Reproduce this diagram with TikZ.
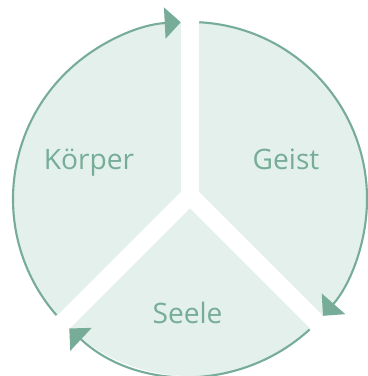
\documentclass[tikz,border=0pt]{standalone}
\usepackage{fontspec}
\setmainfont{Open Sans}
\usetikzlibrary{arrows.meta,calc}
\definecolor{SageLine}{RGB}{118,172,152}
\definecolor{SageFill}{RGB}{227,240,235}
\tikzset{
  disc/.style={fill=SageFill,draw=none},
  gap/.style={draw=white,line width=3.6mm,line join=miter},
  ring/.style={-{Triangle[length=3.2mm,width=6.2mm]},draw=SageLine,fill=none,line width=1.2pt},
  word/.style={text=SageLine,font=\fontsize{16}{19}\selectfont,anchor=base}
}

\begin{document}
\begin{tikzpicture}
  \useasboundingbox (-3.8,-3.54) rectangle (3.54,3.98);
  \coordinate (c) at (0,0);
  \coordinate (j) at (0,0.07);

  % filled disc and the three white gaps
  \fill[disc] (c) circle[radius=3.54];
  \draw[gap] ($(j)+(0,4.2)$) -- (j) -- ($(j)+(225:5)$);
  \draw[gap] (j) -- ($(j)+(-45:5)$);

  % clockwise arcs with arrow heads
  \draw[ring] (c) ++(221:3.54) arc[start angle=221,end angle=93,radius=3.54];
  \draw[ring] (c) ++(87:3.54) arc[start angle=87,end angle=-41.3,radius=3.54];
  \draw[ring] (c) ++(-47.5:3.54) arc[start angle=-47.5,end angle=-133,radius=3.54];

  \node[word] (koerper) at (-2.02,0.58) {Körper};
  \node[word] (geist) at (1.92,0.58) {Geist};
  \node[word] (seele) at (-0.05,-2.48) {Seele};
\end{tikzpicture}
\end{document}
